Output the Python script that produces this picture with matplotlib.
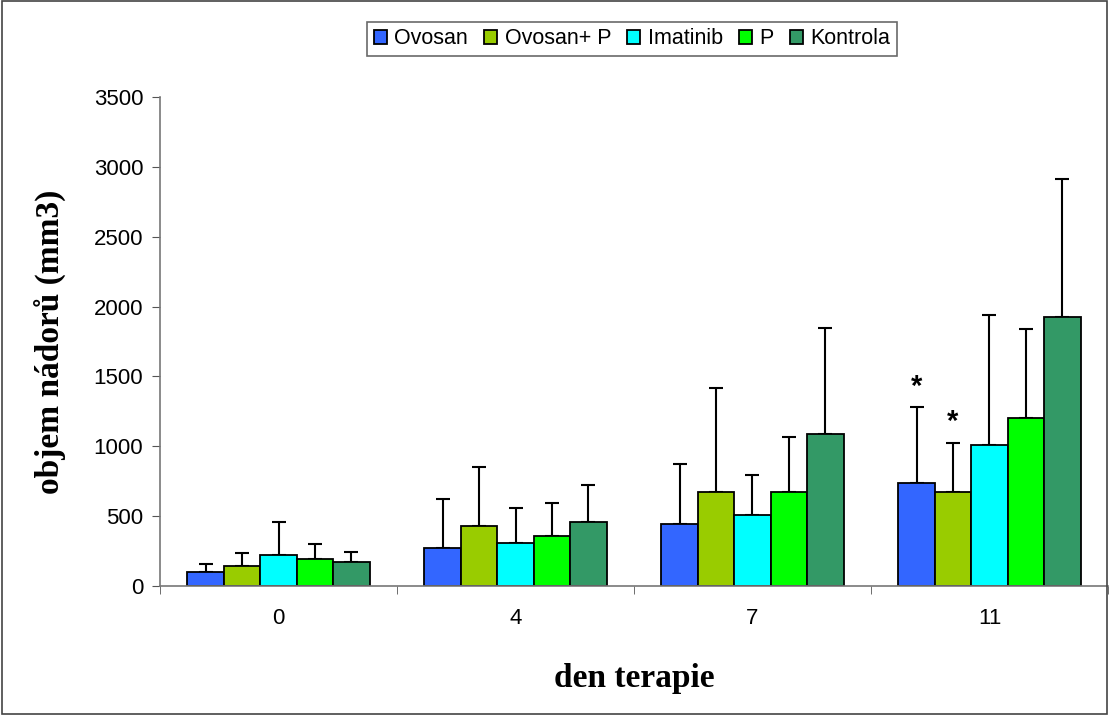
import matplotlib
matplotlib.use("Agg")
import matplotlib.pyplot as plt
import numpy as np
from matplotlib.patches import Rectangle

days = ["0", "4", "7", "11"]
skupiny = ["Ovosan", "Ovosan+ P", "Imatinib", "P", "Kontrola"]
barvy = ["#3366FF", "#99CC00", "#00FFFF", "#00FF00", "#339966"]

# objem nadoru (prumer) a horni chyba (konec error baru)
ovosan = [98, 270, 442, 735]
ovosan_p = [145, 430, 671, 671]
imatinib = [221, 305, 506, 1012]
p = [193, 355, 671, 1203]
kontrola = [174, 460, 1089, 1925]

ovosan_err = [157, 620, 874, 1280]
ovosan_p_err = [236, 850, 1418, 1027]
imatinib_err = [459, 560, 797, 1941]
p_err = [300, 595, 1065, 1839]
kontrola_err = [245, 720, 1848, 2915]

hodnoty = [ovosan, ovosan_p, imatinib, p, kontrola]
konce = [ovosan_err, ovosan_p_err, imatinib_err, p_err, kontrola_err]

plt.rcParams['font.family'] = ['Liberation Sans', 'DejaVu Sans']

fig = plt.figure(figsize=(11.09, 7.15), dpi=100)
ax = fig.add_axes([160 / 1109, 1 - 586 / 715, 948 / 1109, (586 - 97) / 715])

ind = np.arange(len(days))
width = 1 / 6.5
for i, (vals, ends) in enumerate(zip(hodnoty, konce)):
    pos = ind + (i - 2) * width
    vals = np.array(vals)
    err = np.array(ends) - vals
    ax.bar(pos, vals, width=width, color=barvy[i], edgecolor="black",
           linewidth=1.3, label=skupiny[i], zorder=2)
    ax.errorbar(pos, vals, yerr=[np.zeros_like(err), err], fmt="none",
                ecolor="black", elinewidth=1.5, capsize=5, capthick=1.5, zorder=1)

# hvezdicky u dne 11
for i in [0, 1]:
    ax.text(3 + (i - 2) * width, konce[i][3] + 45, "*", ha="center", va="bottom",
            fontsize=21, fontweight="bold")

ax.set_xlim(-0.5, 3.5)
ax.set_ylim(0, 3500)
ax.set_yticks(np.arange(0, 3501, 500))
ax.set_xticks(ind)
ax.set_xticklabels(days)
ax.set_xticks(np.arange(-0.5, 3.6, 1), minor=True)
ax.tick_params(axis="x", which="major", length=0, pad=16, labelsize=16)
ax.tick_params(axis="x", which="minor", length=6, color="#555555")
ax.tick_params(axis="y", length=6, color="#555555", labelsize=16, pad=6)
for s in ["top", "right"]:
    ax.spines[s].set_visible(False)
for s in ["left", "bottom"]:
    ax.spines[s].set_color("#777777")
    ax.spines[s].set_linewidth(1.2)

ax.set_xlabel("den terapie", fontsize=24, fontweight="bold", family="Liberation Serif", labelpad=24)
ax.set_ylabel("objem nádorů (mm3)", fontsize=24, fontweight="bold", family="Liberation Serif", labelpad=20)

leg = fig.legend(loc="center", bbox_to_anchor=(632 / 1109, 1 - 39 / 715), ncol=5,
                 fontsize=15.5, frameon=True, fancybox=False, handlelength=0.6,
                 handleheight=0.6, handletextpad=0.35, columnspacing=0.75,
                 borderpad=0.3, edgecolor="#444444")
leg.get_frame().set_linewidth(1.2)

fig.patches.append(Rectangle((0.002, 0.002), 0.996, 0.996, transform=fig.transFigure,
                             fill=False, edgecolor="#444444", linewidth=1.2))

plt.savefig("out.png", dpi=100)
